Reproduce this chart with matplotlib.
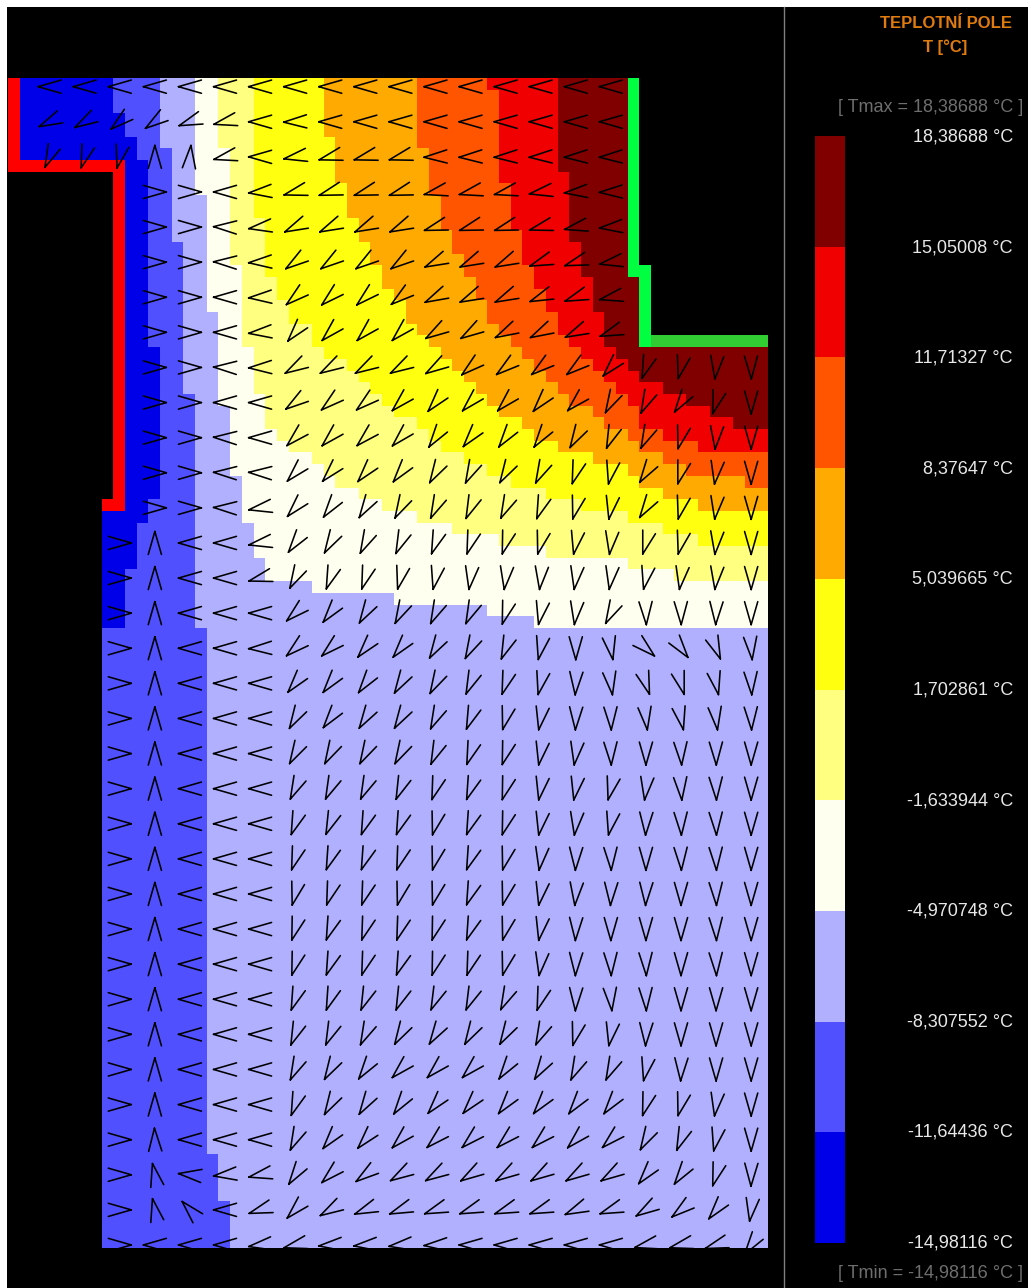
import numpy as np
import matplotlib
matplotlib.use("Agg")
import matplotlib.pyplot as plt
from matplotlib.colors import ListedColormap
from matplotlib.lines import Line2D

W, H = 1028, 1288
N_ROWS, N_COLS = 100, 65

# colour of each band, coldest first
band_colors = ["#0000E8", "#5050FF", "#B0B0FF", "#FFFFF0", "#FFFF80",
               "#FFFF10", "#FFAA00", "#FF5500", "#F00000", "#800000"]
red_wall = "#FF0000"
green_wall = "#00FF40"
lime_wall = "#32CD32"
wall_black = "#000000"

# first column of each band, one value per grid row
band1_start = [9]*3 + [10]*2 + [11]*2 + [12]*16 + [13]*13 + [12]*2 + [11]*4 + [10]*5 + [0]*53
band2_start = [13]*6 + [14]*8 + [15]*13 + [16]*20 + [17]*45 + [18]*4 + [19]*4
band3_start = [16]*10 + [17]*10 + [18]*8 + [19]*6 + [20]*4 + [21]*3 + [22]*2 + [26, 33, 41, 45] + [65]*53
band4_start = [18]*6 + [19]*10 + [20]*7 + [21]*4 + [22]*3 + [23, 24, 26, 27, 28, 30, 32, 35, 38, 42, 46, 53, 57] + [65]*57
band5_start = [21]*12 + [22]*5 + [23]*2 + [24]*2 + [26]*2 + [27, 29, 30, 31, 32, 33, 35, 36, 37, 39, 41, 43, 46, 49, 53, 56, 59] + [65]*60
band6_start = [27]*5 + [28]*4 + [29]*3 + [30]*2 + [31]*2 + [32]*2 + [33] + [34]*2 + [35, 36, 37, 38, 39, 40, 41, 42, 44, 45, 47, 50, 53, 54, 56, 59] + [65]*63
band7_start = [35]*6 + [36]*4 + [37]*3 + [38]*2 + [39]*2 + [40]*2 + [41]*2 + [42, 43, 44, 45, 46, 47, 48, 50, 51, 53, 54, 56, 58, 63] + [65]*65
band8_start = [41] + [42]*8 + [43]*4 + [44]*3 + [45]*2 + [46]*2 + [47]*2 + [48, 49, 50, 51, 52, 53, 54, 54, 56, 59] + [65]*68
band9_start = [47]*8 + [48]*6 + [49]*3 + [50]*3 + [51]*3 + [52, 53, 54, 56, 58, 60, 62] + [65]*70

# arrow direction in degrees (0 right, 90 up, 180 left, 270 down)
arrow_first_k = [0]*3 + [3]*10 + [2]*21
arrow_angles = [
    [180]*17,
    [205, 210, 220, 215, 200, 193, 180, 182, 180, 180, 180, 180, 180, 180, 180, 180, 180],
    [246, 252, 256, 90, 85, 193, 180, 190, 195, 195, 195, 182, 182, 182, 182, 182, 182],
    [0, 0, 180, 185, 195, 197, 197, 197, 193, 193, 193, 190, 185, 182],
    [0, 0, 178, 188, 205, 205, 205, 205, 197, 197, 197, 195, 192, 185],
    [0, 0, 178, 183, 215, 215, 215, 215, 205, 205, 205, 200, 198, 190],
    [0, 0, 180, 183, 220, 222, 222, 218, 206, 205, 205, 202, 200, 192],
    [0, 0, 180, 185, 230, 225, 225, 225, 212, 212, 207, 207, 205, 200],
    [0, 0, 178, 182, 210, 210, 210, 210, 212, 220, 218, 218, 218, 228, 250, 256, 264, 271],
    [0, 0, 180, 180, 215, 220, 220, 225, 230, 226, 226, 230, 225, 242, 245, 236, 253, 270],
    [0, 0, 178, 180, 224, 225, 224, 226, 235, 231, 234, 235, 240, 248, 245, 255, 265, 270],
    [0, 0, 178, 178, 227, 228, 230, 232, 240, 244, 240, 244, 252, 258, 237, 254, 262, 270],
    [0, 0, 178, 190, 228, 234, 238, 242, 245, 247, 245, 250, 255, 260, 237, 256, 263, 270],
    [0, 90, 180, 180, 190, 234, 240, 244, 247, 250, 252, 253, 255, 259, 263, 254, 256, 264, 270],
    [0, 90, 180, 180, 195, 242, 250, 252, 256, 258, 262, 263, 264, 262, 262, 258, 262, 264, 270],
    [0, 90, 180, 180, 180, 222, 232, 239, 243, 245, 246, 253, 259, 263, 243, 272, 271, 268, 270],
    [0, 90, 180, 180, 182, 221, 222, 230, 231, 239, 243, 248, 258, 270, 280, 318, 307, 292, 275],
    [0, 90, 180, 180, 180, 231, 232, 234, 239, 242, 247, 252, 257, 267, 278, 288, 286, 282, 273],
    [0, 90, 180, 180, 180, 240, 233, 238, 239, 245, 249, 255, 260, 268, 272, 277, 282, 277, 272],
    [0, 90, 180, 180, 180, 241, 242, 242, 242, 247, 251, 253, 260, 262, 272, 270, 273, 271, 270],
    [0, 90, 180, 180, 180, 245, 246, 246, 248, 252, 250, 253, 260, 260, 256, 263, 274, 272, 270],
    [0, 90, 180, 180, 180, 250, 248, 250, 250, 255, 250, 253, 260, 263, 258, 268, 272, 272, 270],
    [0, 90, 180, 180, 180, 252, 250, 250, 252, 255, 250, 255, 262, 268, 272, 270, 272, 272, 270],
    [0, 90, 180, 180, 180, 255, 252, 252, 255, 255, 250, 255, 260, 265, 268, 268, 270, 272, 270],
    [0, 90, 180, 180, 180, 253, 250, 252, 252, 253, 250, 255, 260, 268, 270, 270, 270, 272, 270],
    [0, 90, 180, 180, 180, 253, 250, 252, 250, 253, 252, 255, 262, 268, 272, 272, 270, 272, 270],
    [0, 90, 180, 180, 180, 250, 250, 248, 248, 247, 247, 245, 252, 268, 275, 272, 270, 270, 270],
    [0, 90, 180, 180, 180, 248, 247, 245, 240, 238, 240, 240, 245, 255, 260, 268, 270, 270, 270],
    [0, 90, 180, 180, 180, 245, 240, 235, 225, 225, 225, 235, 238, 245, 245, 258, 268, 270, 270],
    [0, 90, 180, 180, 180, 250, 240, 238, 235, 230, 230, 232, 232, 233, 233, 253, 255, 262, 270],
    [0, 92, 180, 180, 180, 245, 231, 229, 225, 223, 223, 223, 223, 225, 223, 241, 248, 258, 270],
    [0, 102, 174, 186, 192, 236, 223, 216, 211, 211, 212, 212, 212, 212, 212, 231, 235, 253, 269],
    [0, 102, 133, 180, 198, 226, 210, 202, 201, 200, 200, 200, 200, 204, 200, 212, 218, 231, 262],
    [0, 180, 180, 180, 188, 194, 185, 185, 187, 183, 180, 180, 180, 180, 180, 193, 194, 198, 235],
]

legend_labels = ["18,38688 °C", "15,05008 °C", "11,71327 °C", "8,37647 °C", "5,039665 °C",
                 "1,702861 °C", "-1,633944 °C", "-4,970748 °C", "-8,307552 °C",
                 "-11,64436 °C", "-14,98116 °C"]
title_lines = ["TEPLOTNÍ POLE", "T [°C]"]
tmax_label = "[ Tmax = 18,38688 °C ]"
tmin_label = "[ Tmin = -14,98116 °C ]"


def fx(x):
    return x / W


def fy(y):
    return 1 - y / H


def px_axes(fig, x0, y0, x1, y1, **kw):
    return fig.add_axes([fx(x0), fy(y1), (x1 - x0) / W, (y1 - y0) / H], **kw)


plt.rcParams["font.family"] = ["Liberation Sans", "DejaVu Sans"]
fig = plt.figure(figsize=(W / 100, H / 100), dpi=100, facecolor="white")
fig.patches.append(plt.Rectangle((fx(7), 0), 1 - fx(7), fy(7), transform=fig.transFigure,
                                 facecolor="black", edgecolor="none", zorder=-1))

# temperature bands -> grid of colour indices
starts = np.array([band1_start, band2_start, band3_start, band4_start, band5_start,
                   band6_start, band7_start, band8_start, band9_start])
cols = np.arange(N_COLS)
grid = (cols[None, None, :] >= starts[:, :, None]).sum(axis=0)

RED, GREEN, LIME, BLACK = 10, 11, 12, 13
# walls and outside of the section
grid[8:37, :9] = BLACK
grid[37:, :8] = BLACK
grid[:16, 54:] = BLACK
grid[:22, 55:] = BLACK
grid[:8, 0] = RED
grid[7, :10] = RED
grid[7:37, 9] = RED
grid[36, 8] = RED
grid[:17, 53] = GREEN
grid[16:23, 54] = GREEN
grid[22, 55:] = LIME

cmap = ListedColormap(band_colors + [red_wall, green_wall, lime_wall, wall_black])
ax = px_axes(fig, 8, 78, 768, 1248, facecolor="black")
ax.pcolormesh(np.arange(N_COLS + 1), np.arange(N_ROWS + 1), grid, cmap=cmap,
              vmin=-0.5, vmax=13.5, antialiased=False, linewidth=0)
ax.set_xlim(0, N_COLS)
ax.set_ylim(N_ROWS, 0)
ax.axis("off")

# arrows: two barbs only, no shaft, centred on the node
barb_len = 2.05
half_open = np.radians(16)
xs, ys = [], []
for j, (k0, row) in enumerate(zip(arrow_first_k, arrow_angles)):
    for i, deg in enumerate(row):
        k = k0 + i
        cx = 3.56 + 3 * k
        cy = 0.74 + 3 * j
        a = np.radians(deg)
        ux, uy = np.cos(a), -np.sin(a)
        tx = cx + ux * barb_len * np.cos(half_open) / 2
        ty = cy + uy * barb_len * np.cos(half_open) / 2
        for s in (-1, 1):
            b = a + s * half_open
            xs += [tx, tx - barb_len * np.cos(b), np.nan]
            ys += [ty, ty + barb_len * np.sin(b), np.nan]
ax.plot(xs, ys, color="black", lw=1.15, solid_capstyle="round")

# colour scale
cax = px_axes(fig, 815, 136, 845, 1243)
cax.pcolormesh([0, 1], np.arange(11), np.arange(10)[:, None],
               cmap=ListedColormap(band_colors), vmin=-0.5, vmax=9.5)
cax.set_xlim(0, 1)
cax.set_ylim(0, 10)
cax.axis("off")

for i, lab in enumerate(legend_labels):
    fig.text(fx(1013), fy(137 + (1243 - 137) * i / 10), lab, color="#E8E8E8", fontsize=12.96,
             ha="right", va="center")
fig.text(fx(946), fy(24), title_lines[0], color="#E07B10", fontsize=12, weight="bold",
         ha="center", va="center")
fig.text(fx(945), fy(47), title_lines[1], color="#E07B10", fontsize=12, weight="bold",
         ha="center", va="center")
fig.text(fx(1023), fy(107), tmax_label, color="#6E6E6E", fontsize=12.96, ha="right", va="center")
fig.text(fx(1023), fy(1273), tmin_label, color="#6E6E6E", fontsize=12.96, ha="right", va="center")

fig.add_artist(Line2D([fx(783.5), fx(783.5)], [fy(7), 0], color="#808080", lw=1.0))

fig.savefig("out.png", dpi=100, facecolor=fig.get_facecolor())
